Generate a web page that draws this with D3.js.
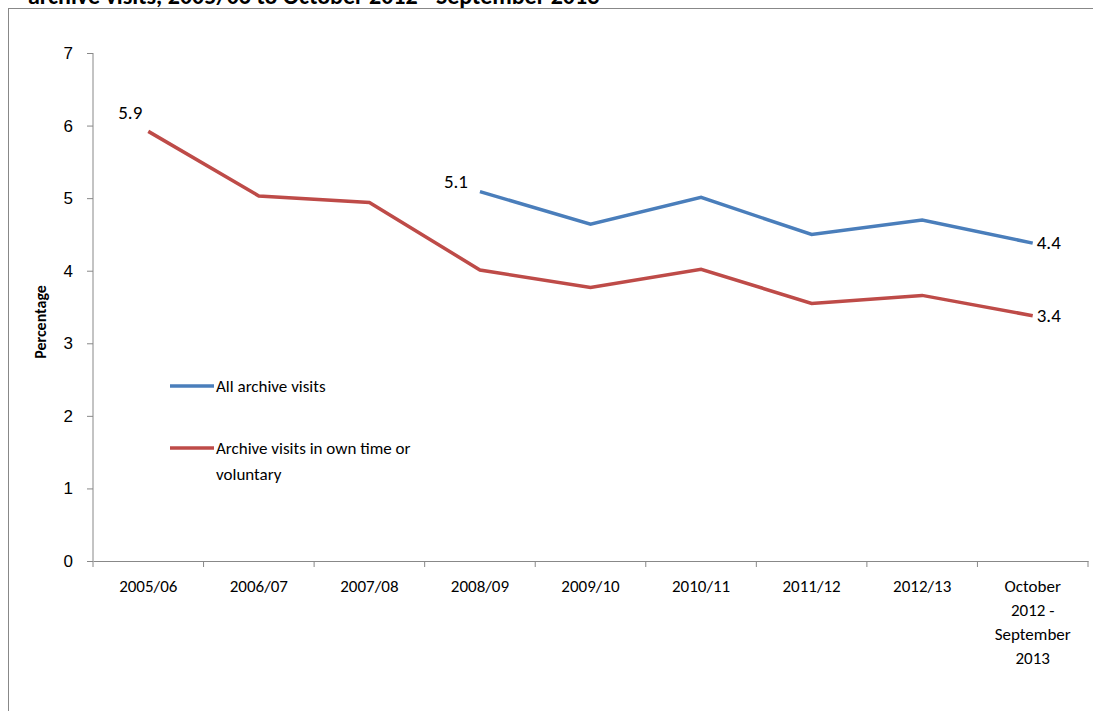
<!DOCTYPE html>
<html><head><meta charset="utf-8">
<script src="https://cdn.jsdelivr.net/npm/d3@7"></script>
<style>body{margin:0;background:#fff}svg{display:block;font-family:Calibri,Carlito,"Liberation Sans",sans-serif}</style>
</head><body>
<script>
const categories = ['2005/06','2006/07','2007/08','2008/09','2009/10','2010/11','2011/12','2012/13','October|2012 -|September|2013']
const allVisits = [null,null,null,5.09,4.64,5.01,4.50,4.70,4.38]
const ownTime = [5.92,5.03,4.94,4.01,3.77,4.02,3.55,3.66,3.38]
const yTicks = [0,1,2,3,4,5,6,7]

const svg = d3.select('body').append('svg').attr('width',1093).attr('height',711)
svg.append('text').text('archive visits, 2005/06 to October 2012 - September 2013')
  .attr('x',28).attr('y',4).attr('font-size',24).attr('font-weight','bold')
svg.append('rect').attr('x',8.5).attr('y',8.5).attr('width',1100).attr('height',720)
  .attr('fill','none').attr('stroke','#888')

const x = d3.scaleBand().domain(categories).range([93,1088])
const y = d3.scaleLinear().domain([0,7]).range([561,53])

const ya = svg.append('g').attr('transform','translate(93,0)')
  .call(d3.axisLeft(y).tickValues(yTicks).tickFormat(d3.format('d')).tickSize(6).tickPadding(14))
ya.select('.domain').attr('stroke','#888').attr('d','M0,53V561')
ya.selectAll('line').attr('stroke','#888')
ya.selectAll('text').attr('font-size',17).attr('fill','#000')

const xa = svg.append('g').attr('transform','translate(0,561)')
  .call(d3.axisBottom(x).tickSize(0).tickFormat(''))
xa.select('.domain').attr('stroke','#888')
categories.forEach((c,i)=>{
  const edge = x.range()[0] + i*x.step()
  svg.append('line').attr('x1',edge).attr('x2',edge).attr('y1',561).attr('y2',567).attr('stroke','#888')
  const t = svg.append('text').attr('text-anchor','middle').attr('font-size',17)
  c.split('|').forEach((l,j)=>t.append('tspan').attr('x',x(c)+x.bandwidth()/2).attr('y',592+j*24).text(l))
})
svg.append('line').attr('x1',1088).attr('x2',1088).attr('y1',561).attr('y2',567).attr('stroke','#888')

svg.append('text').text('Percentage').attr('font-weight','bold').attr('font-size',16)
  .attr('text-anchor','middle').attr('transform','translate(46,322) rotate(-90)')

const line = d3.line().defined(d=>d!=null).x((d,i)=>x(categories[i])+x.bandwidth()/2).y(d=>y(d))
svg.append('path').attr('d',line(allVisits)).attr('fill','none').attr('stroke','#4a7ebb').attr('stroke-width',3.5)
svg.append('path').attr('d',line(ownTime)).attr('fill','none').attr('stroke','#be4b48').attr('stroke-width',3.5)

const lab = (txt,i,v,dx,dy,anchor)=>svg.append('text').text(txt).attr('font-size',19)
  .attr('x',x(categories[i])+x.bandwidth()/2+dx).attr('y',y(v)+dy).attr('text-anchor',anchor)
lab('5.9',0,ownTime[0],-6,-12,'end')
lab('5.1',3,allVisits[3],-12,-4,'end')
lab('4.4',8,allVisits[8],4,6,'start')
lab('3.4',8,ownTime[8],4,6,'start')

const leg = [['All archive visits','#4a7ebb',386],['Archive visits in own time or|voluntary','#be4b48',448]]
leg.forEach(([t,c,yy])=>{
  svg.append('line').attr('x1',170).attr('x2',214).attr('y1',yy).attr('y2',yy).attr('stroke',c).attr('stroke-width',3.5)
  const tx = svg.append('text').attr('font-size',17)
  t.split('|').forEach((l,j)=>tx.append('tspan').attr('x',216).attr('y',yy+6+j*26).text(l))
})
</script>
</body></html>
